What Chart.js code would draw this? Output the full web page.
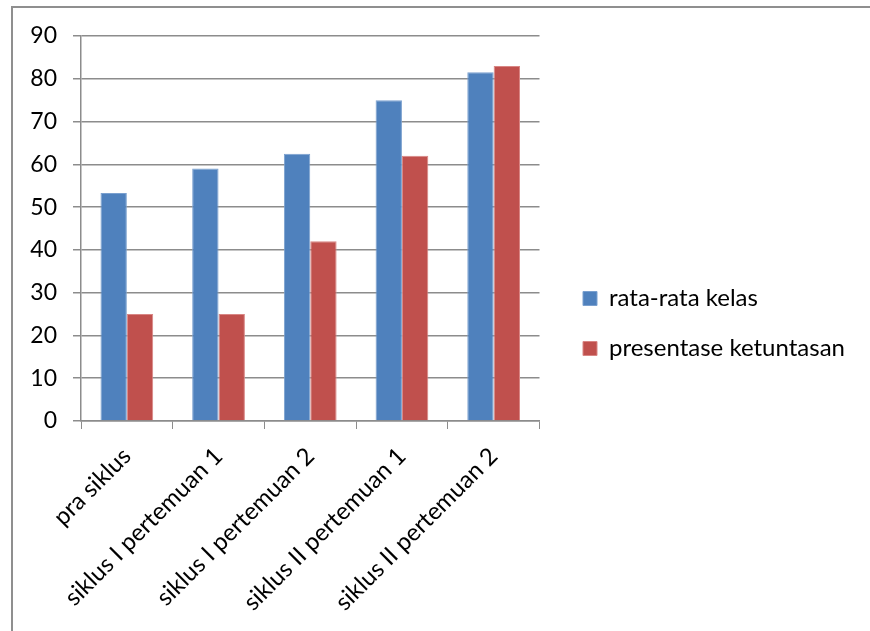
<!DOCTYPE html>
<html>
<head>
<meta charset="utf-8">
<script src="https://cdn.jsdelivr.net/npm/chart.js@4.4.1/dist/chart.umd.min.js"></script>
<style>
  body { margin: 0; background: #fff; overflow: hidden; }
  #frame { position: absolute; left: 11px; top: 6px; width: 900px; height: 700px; border: 2px solid #8f8f8f; }
  #wrap { position: absolute; left: 0; top: 0; width: 870px; height: 631px; }
</style>
</head>
<body>
<div id="frame"></div>
<div id="wrap"><canvas id="chart" width="870" height="631"></canvas></div>
<script>
// chart data
const categories = ["pra siklus", "siklus I pertemuan 1", "siklus I pertemuan 2", "siklus II pertemuan 1", "siklus II pertemuan 2"]
const rataRataKelas = [53.3, 59, 62.5, 75, 81.5]
const presentaseKetuntasan = [25, 25, 42, 62, 83]
const yTicks = [0, 10, 20, 30, 40, 50, 60, 70, 80, 90]

const fontFamily = "Lato, 'Open Sans', sans-serif"
const gray = "#8c8c8c"
const plotRight = 539.5
const gapWidth = 17.5

const ctx = document.getElementById("chart").getContext("2d")
const myChart = new Chart(ctx, {
    type: "bar",
    data: {
        labels: categories,
        datasets: [
            {
                label: "rata-rata kelas",
                data: rataRataKelas,
                backgroundColor: "#4f81bd",
                borderColor: "#7aa0cf",
                borderWidth: 1,
                categoryPercentage: 0.575,
                barPercentage: 1
            },
            {
                label: "presentase ketuntasan",
                data: presentaseKetuntasan,
                backgroundColor: "#c0504d",
                borderColor: "#d98684",
                borderWidth: 1,
                categoryPercentage: 0.575,
                barPercentage: 1
            }
        ]
    },
    options: {
        responsive: false,
        animation: false,
        layout: { padding: { top: 36, left: 0, right: 0, bottom: 20 } },
        plugins: {
            legend: {
                position: "right",
                labels: {
                    color: "#000",
                    font: { family: fontFamily, size: 24 },
                    boxWidth: 14,
                    boxHeight: 14,
                    padding: 26
                }
            },
            tooltip: { enabled: false }
        },
        scales: {
            x: {
                grid: { display: true, drawOnChartArea: false, drawTicks: true, tickLength: 8, color: gray, offset: true },
                border: { display: true, color: gray, width: 1.5 },
                ticks: {
                    color: "#000",
                    font: { family: fontFamily, size: 24 },
                    minRotation: 45,
                    maxRotation: 45,
                    autoSkip: false,
                    padding: 13
                },
                afterFit: function(scale) { scale.height = 631 - 20 - 421 }
            },
            y: {
                min: 0,
                max: 90,
                afterBuildTicks: function(scale) { scale.ticks = yTicks.map(v => ({ value: v })) },
                grid: { color: gray, lineWidth: 1.5, tickLength: 8 },
                border: { display: true, color: gray, width: 1.5 },
                ticks: {
                    color: "#000",
                    font: { family: fontFamily, size: 23 },
                    padding: 16
                },
                afterFit: function(scale) { scale.width = 81 }
            },
            // spacer between plot and legend
            gap: {
                position: "right",
                display: true,
                grid: { display: false },
                border: { display: false },
                ticks: { display: false },
                afterFit: function(scale) { scale.width = gapWidth }
            }
        }
    }
})

// let the legend be as wide as its text needs
const legend = myChart.legend
const legendUpdate = legend.update.bind(legend)
legend.update = function(maxWidth, maxHeight, margins) { legendUpdate(420, maxHeight, margins) }
myChart.update()
// push the legend so that the plot ends where the reference ends
myChart.options.layout.padding.right = Math.max(0, 870 - plotRight - gapWidth - legend.width)
myChart.update()
</script>
</body>
</html>
